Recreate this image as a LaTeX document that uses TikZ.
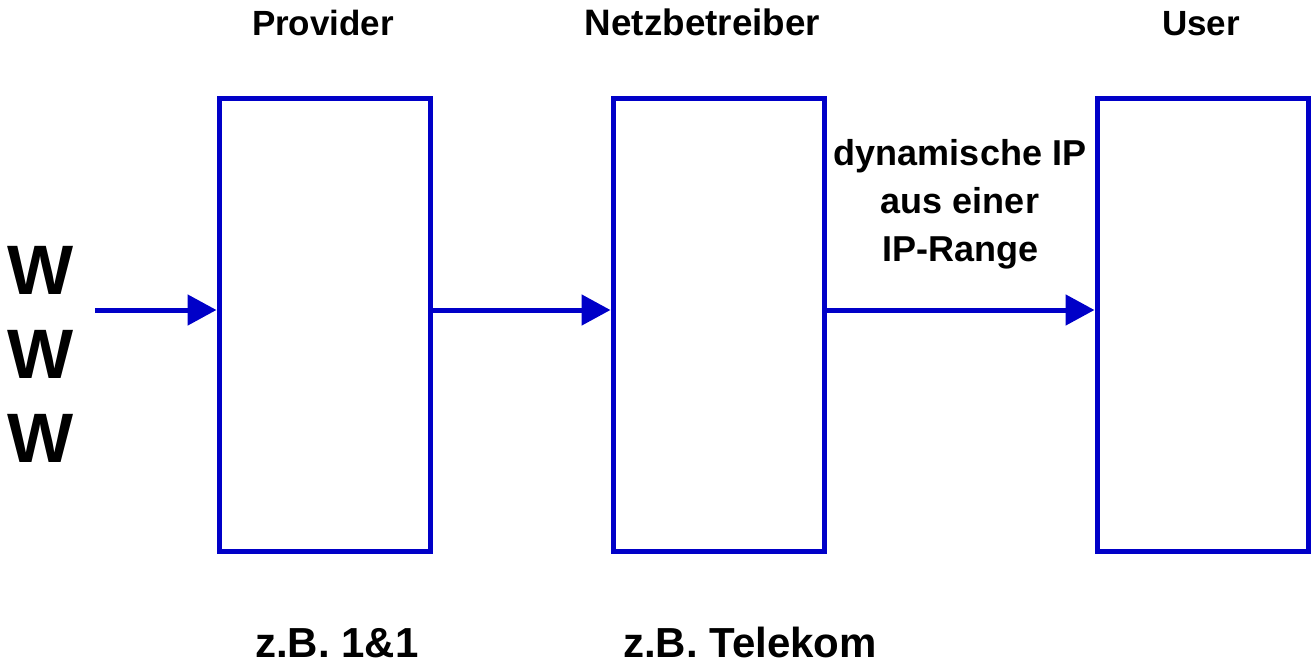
\documentclass[tikz,border=0pt]{standalone}
\usepackage{fontspec}
\setmainfont{Liberation Sans}
\usetikzlibrary{arrows.meta}
\definecolor{boxblue}{RGB}{0,0,200}
\begin{document}
\begin{tikzpicture}[x=1pt,y=-1pt,
  box/.style={draw=boxblue,line width=5pt,minimum width=211pt,minimum height=452pt,inner sep=0pt},
  flow/.style={draw=boxblue,line width=5pt,-{Triangle[length=29pt,width=30pt]}},
  head/.style={font=\fontsize{35}{42}\selectfont\bfseries,anchor=base,inner sep=0pt},
  foot/.style={font=\fontsize{42}{50}\selectfont\bfseries,anchor=base,inner sep=0pt}]
\useasboundingbox (0,0) rectangle (1311,666);
\node[box] (prov) at (324.5,325) {};
\node[box] (netz) at (718.5,325) {};
\node[box] (user) at (1202.5,325) {};
\node[head] (lprov) at (323,36) {Provider};
\node[head,font=\fontsize{36.8}{42}\selectfont\bfseries] (lnetz) at (702.5,36) {Netzbetreiber};
\node[head] (luser) at (1201,36) {User};
\node[font=\fontsize{70}{84}\selectfont\bfseries,align=center,inner sep=0pt] (www) at (41,354) {W\\W\\W};
\node[font=\fontsize{36}{48}\selectfont\bfseries,align=center,inner sep=0pt] (dyn) at (960,204) {dynamische IP\\aus einer\\IP-Range};
\node[foot] (f11) at (337,657) {z.B. 1\&1};
\node[foot] (ftel) at (750,657) {z.B. Telekom};
\coordinate (start) at (95,310);
\draw[flow] (start) -- (prov.west |- start);
\draw[flow] (prov.east |- start) -- (netz.west |- start);
\draw[flow] (netz.east |- start) -- (user.west |- start);
\end{tikzpicture}
\end{document}
